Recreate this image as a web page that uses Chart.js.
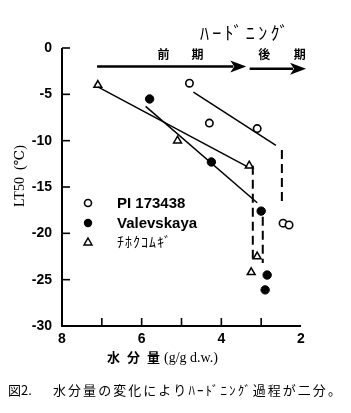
<!DOCTYPE html>
<html>
<head>
<meta charset="utf-8">
<script src="https://cdn.jsdelivr.net/npm/chart.js@4.4.1/dist/chart.umd.min.js"></script>
<style>
    html, body { margin: 0; padding: 0; background: #fff; }
    canvas { display: block; }
</style>
</head>
<body>
<canvas id="myChart" width="351" height="413"></canvas>
<script>
// 水分量 (g/g d.w.) と LT50 (℃)
let piX = [4.8, 4.3, 3.1, 2.45, 2.3];
let piY = [-3.8, -8.1, -8.7, -18.9, -19.1];
let valX = [5.8, 4.25, 3.0, 2.85, 2.9];
let valY = [-5.5, -12.3, -17.6, -24.5, -26.1];
let chiX = [7.1, 5.1, 3.3, 3.1, 3.25];
let chiY = [-4.0, -10.0, -12.7, -22.5, -24.2];

// 回帰直線 (始点, 終点)
let piLineX = [4.7, 2.63];
let piLineY = [-4.75, -10.5];
let valLineX = [5.9, 3.1];
let valLineY = [-6.3, -16.7];
let chiLineX = [7.1, 3.35];
let chiLineY = [-4.2, -12.8];

// 縦の破線
let dashX = [2.48, 3.21, 2.96];
let dashTop = [-11.0, -12.7, -18.2];
let dashBottom = [-16.8, -23.1, -23.2];

// 前期・後期の矢印
let arrowFromX = [7.12, 3.29];
let arrowToX = [3.7, 2.2];
let arrowY = [-2.0, -2.25];

let xTickLabels = [8, 6, 4, 2];
let xTickMarks = [7, 6, 5, 4, 3];
let yTickLabels = [0, -5, -10, -15, -20, -25, -30];
let yTickMarks = [0, -5, -10, -15, -20, -25];

let seriesNames = ['PI 173438', 'Valevskaya', 'ﾁﾎｸｺﾑｷﾞ'];

const BLACK = '#000';

let pts = (xs, ys) => xs.map((x, i) => ({x: x, y: ys[i]}));

let lineSet = (xs, ys, dash) => ({
    type: 'line',
    data: pts(xs, ys),
    showLine: true,
    borderColor: BLACK,
    borderWidth: dash ? 2 : 1.5,
    borderDash: dash ? [9, 5] : [],
    pointRadius: 0,
    fill: false,
});

let datasets = [
    lineSet(piLineX, piLineY),
    lineSet(valLineX, valLineY),
    lineSet(chiLineX, chiLineY),
];
dashX.forEach((x, i) => {
    datasets.push(lineSet([x, x], [dashTop[i], dashBottom[i]], true));
});
arrowFromX.forEach((x, i) => {
    let s = lineSet([x, arrowToX[i]], [arrowY[i], arrowY[i]]);
    s.borderWidth = 2.5;
    datasets.push(s);
});
datasets.push({
    label: seriesNames[0], data: pts(piX, piY),
    pointStyle: 'circle', pointRadius: 3.7, borderWidth: 1.6,
    borderColor: BLACK, backgroundColor: '#fff'
});
datasets.push({
    label: seriesNames[1], data: pts(valX, valY),
    pointStyle: 'circle', pointRadius: 4.2, borderWidth: 1,
    borderColor: BLACK, backgroundColor: BLACK
});
datasets.push({
    label: seriesNames[2], data: pts(chiX, chiY),
    pointStyle: 'triangle', pointRadius: 4.5, borderWidth: 1.5,
    borderColor: BLACK, backgroundColor: '#fff'
});

// 軸・矢印の頭・凡例・文字
let decor = {
    id: 'decor',
    afterDraw(chart) {
        let ctx = chart.ctx;
        let xs = chart.scales.x, ys = chart.scales.y;
        let a = chart.chartArea;
        ctx.save();
        ctx.strokeStyle = BLACK;
        ctx.fillStyle = BLACK;

        // 軸線
        ctx.lineWidth = 2;
        ctx.beginPath();
        ctx.moveTo(a.left, a.top);
        ctx.lineTo(a.left, a.bottom);
        ctx.lineTo(a.right, a.bottom);
        ctx.stroke();
        ctx.lineWidth = 1.6;
        yTickMarks.forEach(v => {
            let py = ys.getPixelForValue(v);
            ctx.beginPath();
            ctx.moveTo(a.left, py);
            ctx.lineTo(a.left + 8, py);
            ctx.stroke();
        });
        xTickMarks.forEach(v => {
            let px = xs.getPixelForValue(v);
            ctx.beginPath();
            ctx.moveTo(px, a.bottom);
            ctx.lineTo(px, a.bottom - 8);
            ctx.stroke();
        });

        // 矢印の頭
        arrowToX.forEach((x, i) => {
            let px = xs.getPixelForValue(x);
            let py = ys.getPixelForValue(arrowY[i]);
            ctx.beginPath();
            ctx.moveTo(px + 13, py);
            ctx.lineTo(px - 3, py - 6);
            ctx.lineTo(px + 1, py);
            ctx.lineTo(px - 3, py + 6);
            ctx.closePath();
            ctx.fill();
        });

        // 前期・後期
        ctx.font = 'bold 12px "Noto Sans CJK JP"';
        ctx.textAlign = 'center';
        ctx.textBaseline = 'middle';
        [['前', 5.45], ['期', 4.6], ['後', 2.92], ['期', 2.03]].forEach(t => {
            ctx.fillText(t[0], xs.getPixelForValue(t[1]), ys.getPixelForValue(-0.65));
        });

        // ハードニング
        ctx.font = '18px "Noto Sans CJK JP"';
        ctx.textAlign = 'left';
        let hd = 'ﾊｰﾄﾞﾆﾝｸﾞ';
        let w = ctx.measureText(hd).width;
        ctx.letterSpacing = ((95 - w) / (hd.length - 1)) + 'px';
        ctx.fillText(hd, 200, 33);
        ctx.letterSpacing = '0px';

        // 凡例
        let ly = [203, 223, 242];
        ctx.lineWidth = 1.6;
        ctx.beginPath();
        ctx.arc(88, ly[0], 3.5, 0, Math.PI * 2);
        ctx.stroke();
        ctx.beginPath();
        ctx.arc(88, ly[1], 4.2, 0, Math.PI * 2);
        ctx.fill();
        ctx.lineWidth = 1.5;
        ctx.beginPath();
        ctx.moveTo(88, ly[2] - 4);
        ctx.lineTo(92, ly[2] + 3);
        ctx.lineTo(84, ly[2] + 3);
        ctx.closePath();
        ctx.stroke();
        ctx.font = 'bold 15px "Liberation Sans"';
        ctx.fillText(seriesNames[0], 117, ly[0] + 1);
        ctx.fillText(seriesNames[1], 117, ly[1] + 1);
        ctx.font = '14px "Noto Sans CJK JP"';
        ctx.letterSpacing = '1px';
        ctx.fillText(seriesNames[2], 117, ly[2]);
        ctx.letterSpacing = '0px';

        // 軸タイトル
        ctx.font = 'bold 13px "Noto Sans CJK JP"';
        ctx.letterSpacing = '7px';
        ctx.fillText('水分量', 107, 357);
        ctx.letterSpacing = '0px';
        ctx.font = '14px "Liberation Serif"';
        ctx.fillText('(g/g d.w.)', 164, 358);

        ctx.save();
        ctx.translate(20, 176);
        ctx.rotate(-Math.PI / 2);
        ctx.textAlign = 'center';
        ctx.font = '14px "Liberation Serif", "DejaVu Serif"';
        ctx.fillText('LT50  (℃)', 0, 0);
        ctx.restore();

        // 図の説明
        ctx.font = '13px "Noto Sans CJK JP"';
        ctx.fillText('図2.', 8, 390);
        let cap = '水分量の変化によりﾊｰﾄﾞﾆﾝｸﾞ過程が二分。';
        let cw = ctx.measureText(cap).width;
        ctx.letterSpacing = ((292 - cw) / (cap.length - 1)) + 'px';
        ctx.fillText(cap, 53, 390);
        ctx.letterSpacing = '0px';

        ctx.restore();
    }
};

let config = {
    type: 'scatter',
    data: { datasets: datasets },
    options: {
        responsive: false,
        animation: false,
        layout: { padding: { top: 48, right: 50, left: 0, bottom: 0 } },
        plugins: { legend: { display: false }, tooltip: { enabled: false } },
        scales: {
            x: {
                type: 'linear',
                reverse: true,
                min: 2,
                max: 8,
                afterFit: s => { s.height = 87; },
                afterBuildTicks: s => { s.ticks = xTickLabels.map(v => ({value: v})); },
                grid: { display: false, drawTicks: false },
                border: { display: false },
                ticks: {
                    padding: 5, color: BLACK, autoSkip: false, maxRotation: 0,
                    font: { family: 'Liberation Sans', size: 14, weight: 'bold' },
                    callback: v => String(v)
                }
            },
            y: {
                type: 'linear',
                min: -30,
                max: 0,
                afterFit: s => { s.width = 62; },
                afterBuildTicks: s => { s.ticks = yTickLabels.map(v => ({value: v})); },
                grid: { display: false, drawTicks: false },
                border: { display: false },
                ticks: {
                    padding: 10, color: BLACK, autoSkip: false,
                    font: { family: 'Liberation Sans', size: 14, weight: 'bold' },
                    callback: v => String(v)
                }
            }
        }
    },
    plugins: [decor]
};

let myChart = new Chart(document.getElementById('myChart'), config);
</script>
</body>
</html>
